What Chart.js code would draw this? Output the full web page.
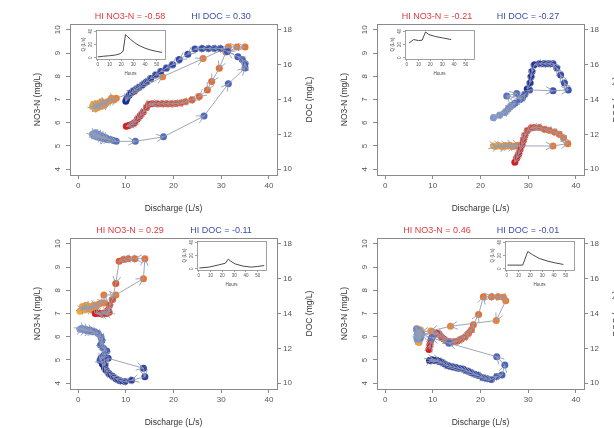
<!DOCTYPE html>
<html>
<head>
<meta charset="utf-8">
<script src="https://cdn.jsdelivr.net/npm/chart.js@4.4.1/dist/chart.umd.min.js"></script>
<style>
html, body { margin: 0; padding: 0; background: #fff; overflow: hidden; }
#wrap { position: relative; width: 614px; height: 428px; overflow: hidden; background: #fff; }
canvas { position: absolute; }
</style>
</head>
<body>
<div id="wrap">
  <canvas id="p1" width="320" height="214" style="left:0px;top:0px"></canvas>
  <canvas id="p2" width="320" height="214" style="left:307px;top:0px"></canvas>
  <canvas id="p3" width="320" height="214" style="left:0px;top:214px"></canvas>
  <canvas id="p4" width="320" height="214" style="left:307px;top:214px"></canvas>
  <canvas id="i1" width="90" height="49" style="left:78px;top:27px"></canvas>
  <canvas id="i2" width="90" height="49" style="left:387px;top:27px"></canvas>
  <canvas id="i3" width="90" height="49" style="left:179px;top:238px"></canvas>
  <canvas id="i4" width="90" height="49" style="left:487px;top:238px"></canvas>
</div>
<script>
// axis ticks
const xTicks = [0, 10, 20, 30, 40];
const no3Ticks = [4, 5, 6, 7, 8, 9, 10];
const docTicks = [10, 12, 14, 16, 18];
const hourTicks = [0, 10, 20, 30, 40, 50];
const flowTicks = [0, 20, 40];

// hysteresis index labels
const hiNo3 = ['-0.58', '-0.21', '0.29', '0.46'];
const hiDoc = ['0.30', '-0.27', '-0.11', '-0.01'];

// event 1
const p1NitrateQ = [3.0,3.6,3.2,4.1,3.8,4.6,4.4,5.1,5.0,5.7,6.0,6.6,7.0,7.5,8.0,11.8,17.7,26.2,31.5,33.3,35.0,31.0,29.6,28.0,27.1,25.4,23.9,22.5,21.5,20.5,19.5,18.5,17.5,16.5,15.5,14.8,14.3,13.6,13.0,12.4,11.8,11.2,10.6,10.1];
const p1Nitrate  = [6.7,6.6,6.8,6.65,6.78,6.7,6.85,6.72,6.9,6.8,6.88,6.95,7.05,6.98,7.05,7.34,7.98,8.76,9.26,9.26,9.26,9.05,8.34,7.77,7.41,7.13,6.99,6.9,6.85,6.83,6.82,6.82,6.82,6.82,6.82,6.8,6.65,6.45,6.3,6.15,6.0,5.92,5.88,5.85];
const p1DocQ = [3.0,3.3,3.6,4.0,4.3,4.7,5.0,5.4,5.8,6.2,6.8,7.4,8.0,12.0,17.9,26.4,31.5,35.0,35.0,34.4,33.5,31.3,29.8,28.5,27.3,26.0,24.5,23.0,21.2,19.8,18.5,17.3,16.2,15.2,14.3,13.5,12.8,12.2,11.7,11.2,10.7,10.2,10.0];
const p1Doc  = [12.0,11.9,12.1,11.85,12.0,11.8,11.9,11.75,11.8,11.7,11.7,11.65,11.6,11.6,11.86,13.05,14.9,15.8,16.05,16.3,16.45,16.75,16.92,16.92,16.92,16.92,16.9,16.6,16.3,16.0,15.8,15.6,15.4,15.2,15.0,14.85,14.7,14.6,14.5,14.4,14.25,14.05,13.9];
const i1Hours = [0,5,10,15,19,21.5,23.5,25.5,28,31,35,40,45,50,54.5];
const i1Flow  = [1.2,2.2,3.0,4.0,6.0,10.0,35.0,31.5,27.5,23.0,18.5,14.5,11.5,9.5,8.0];

// event 2
const p2NitrateQ = [22.7,23.2,23.7,24.2,24.7,25.2,25.7,26.2,26.7,27.2,27.7,28.0,35.2,38.3,37.4,36.5,35.5,34.4,33.4,32.3,31.3,30.6,29.8,29.3,29.0,28.7,28.3,28.0,27.6,27.2];
const p2Nitrate  = [5.0,4.98,5.02,5.0,4.97,5.02,5.0,5.03,4.98,5.0,5.02,5.0,5.0,5.1,5.35,5.5,5.6,5.68,5.72,5.8,5.8,5.77,5.65,5.45,5.25,5.05,4.85,4.65,4.48,4.3];
const p2DocQ = [22.7,24.0,25.1,25.8,26.3,26.8,27.3,25.5,27.6,28.3,28.8,29.3,30.3,35.2,38.4,37.6,36.8,36.0,35.2,34.2,33.3,32.3,31.3,30.8,30.6,30.4,29.8];
const p2Doc  = [12.95,13.1,13.25,13.45,13.6,13.7,13.8,14.2,14.35,14.0,14.1,14.3,14.55,14.5,14.55,14.95,15.4,15.8,16.05,16.05,16.05,16.05,16.0,15.6,15.3,14.95,14.6];
const i2Hours = [2,5.8,10,13,15.9,18.8,24.6,30.3,37.6];
const i2Flow  = [22.3,27.5,26,26.5,39,35,32,30,27.5];

// event 3
const p3NitrateQ = [0.4,0.9,1.3,1.7,2.1,2.5,2.9,3.3,3.8,4.3,4.9,5.5,5.4,7.9,13.7,14.0,11.9,10.5,9.5,8.6,7.9,7.2,6.6,6.3,6.5,6.0,5.5,5.0,4.5,4.0,3.6];
const p3Nitrate  = [7.1,7.3,7.15,7.35,7.2,7.3,7.15,7.35,7.3,7.4,7.45,7.45,7.8,7.8,8.5,9.36,9.36,9.36,9.32,9.25,8.29,7.6,7.35,7.15,7.05,7.0,7.02,6.98,7.0,7.02,7.0];
const p3DocQ = [0.4,0.8,1.2,1.6,2.0,2.5,3.0,3.5,4.2,4.8,5.0,4.7,5.3,6.0,5.4,4.8,4.6,5.2,5.6,6.3,13.7,14.0,11.2,9.8,8.8,8.0,7.2,6.5,5.9,5.5,5.1];
const p3Doc  = [13.1,13.15,13.05,13.1,13.0,13.05,12.95,12.95,12.85,12.65,12.45,12.2,12.0,11.85,11.6,11.45,11.3,11.2,11.05,11.43,10.86,10.37,10.17,10.1,10.15,10.25,10.4,10.55,10.75,10.9,11.1];
const i3Hours = [0.5,8.8,17,22.5,25,26.6,30.8,37.6,44.5,50,55.5];
const i3Flow  = [1,2.4,5.8,8.2,14.5,12,7.2,3.9,2.4,3.4,4.8];

// event 4
const p4NitrateQ = [9.2,9.4,9.6,9.9,10.3,10.8,11.3,11.8,12.3,12.9,13.6,14.4,15.2,16.0,16.8,17.5,18.1,18.5,19.6,20.6,22.3,23.7,24.8,25.3,23.3,13.7,9.6,7.6,7.3,7.0,6.8,7.2,6.9,7.3,6.6,7.1,6.7,7.4];
const p4Nitrate  = [5.45,5.65,5.85,6.0,6.1,6.15,6.12,6.0,5.9,5.82,5.78,5.78,5.82,5.9,6.0,6.15,6.3,6.52,6.96,7.72,7.72,7.72,7.7,7.55,6.7,6.45,6.25,6.2,6.05,5.9,6.1,6.25,5.8,6.0,6.35,5.75,6.0,6.3];
const p4DocQ = [9.3,9.8,10.3,10.8,11.3,11.9,12.5,13.2,14.0,14.8,15.6,16.4,17.2,18.0,18.8,19.6,20.5,21.4,22.3,23.4,24.5,25.1,23.4,13.4,9.8,7.6,7.2,6.9,7.4,7.0,6.8,6.6,7.3,6.7,7.1];
const p4Doc  = [11.3,11.35,11.3,11.32,11.25,11.2,11.1,11.0,10.95,10.9,10.85,10.8,10.7,10.62,10.52,10.45,10.32,10.26,10.22,10.38,10.47,11.04,11.52,12.3,12.6,12.8,12.95,12.7,12.6,13.05,12.85,13.1,12.75,12.55,12.9];
const i4Hours = [0.6,13.5,17.8,22,27.9,35,40.8,48];
const i4Flow  = [5.4,5.4,26,21,15.3,11.3,8.9,6.4];

const FONT = '"Liberation Sans", Arial, sans-serif';
Chart.defaults.font.family = FONT;
Chart.defaults.animation = false;

const orangeStops = [[246, 168, 52], [236, 110, 48], [212, 30, 32]];
const blueStops = [[125, 152, 212], [62, 86, 178], [32, 44, 150]];

function ramp(stops, n, reverse) {
    const out = [];
    for (let i = 0; i < n; i++) {
        let t = n > 1 ? i / (n - 1) : 0;
        if (reverse) t = 1 - t;
        const seg = t < 0.5 ? 0 : 1;
        const f = t < 0.5 ? t * 2 : (t - 0.5) * 2;
        const a = stops[seg], b = stops[seg + 1];
        const c = a.map((v, k) => Math.round(v + (b[k] - v) * f));
        out.push(`rgb(${c[0]},${c[1]},${c[2]})`);
    }
    return out;
}

function pairs(xs, ys) {
    return xs.map((x, i) => ({ x: x, y: ys[i] }));
}

function rotatedText(ctx, text, x, y) {
    ctx.save();
    ctx.translate(x, y);
    ctx.rotate(-Math.PI / 2);
    ctx.textAlign = 'center';
    ctx.textBaseline = 'middle';
    ctx.fillText(text, 0, 0);
    ctx.restore();
}

// grey segment from each point to the next, open V head at the end
function drawArrows(ctx, pts) {
    ctx.save();
    ctx.strokeStyle = 'rgba(148,156,176,0.9)';
    ctx.lineWidth = 1;
    for (let i = 1; i < pts.length; i++) {
        const a = pts[i - 1], b = pts[i];
        const dx = b.x - a.x, dy = b.y - a.y;
        if (Math.hypot(dx, dy) < 0.5) continue;
        const ang = Math.atan2(dy, dx);
        const h = 8, s = 0.5;
        ctx.beginPath();
        ctx.moveTo(a.x, a.y);
        ctx.lineTo(b.x, b.y);
        ctx.moveTo(b.x - h * Math.cos(ang - s), b.y - h * Math.sin(ang - s));
        ctx.lineTo(b.x, b.y);
        ctx.lineTo(b.x - h * Math.cos(ang + s), b.y - h * Math.sin(ang + s));
        ctx.stroke();
    }
    ctx.restore();
}

const tickGrid = { display: true, drawOnChartArea: false, drawTicks: true, tickLength: 4, color: '#8a8a8a', lineWidth: 1 };

function makePanel(id, idx, no3Q, no3, docQ, doc, reverse) {
    const decor = {
        id: 'decor' + idx,
        afterDatasetDraw(chart, args) {
            drawArrows(chart.ctx, args.meta.data);
        },
        afterDraw(chart) {
            const { ctx, chartArea: a, scales } = chart;
            ctx.save();
            ctx.strokeStyle = '#8a8a8a';
            ctx.lineWidth = 1;
            ctx.strokeRect(Math.round(a.left) + 0.5, Math.round(a.top) + 0.5,
                Math.round(a.right - a.left), Math.round(a.bottom - a.top));
            ctx.fillStyle = '#555';
            ctx.font = '8px ' + FONT;
            no3Ticks.forEach(v => rotatedText(ctx, String(v), a.left - 12, scales.y.getPixelForValue(v)));
            ctx.fillStyle = '#333';
            ctx.font = '8.5px ' + FONT;
            rotatedText(ctx, 'NO3-N (mg/L)', a.left - 32, (a.top + a.bottom) / 2);
            rotatedText(ctx, 'DOC (mg/L)', a.right + 33, (a.top + a.bottom) / 2);
            ctx.font = '9px ' + FONT;
            ctx.textAlign = 'center';
            ctx.textBaseline = 'middle';
            ctx.fillStyle = '#e23a3f';
            ctx.fillText('HI NO3-N = ' + hiNo3[idx], 130, 17);
            ctx.fillStyle = '#3b4ea8';
            ctx.fillText('HI DOC = ' + hiDoc[idx], 221, 17);
            ctx.restore();
        }
    };

    new Chart(document.getElementById(id), {
        type: 'scatter',
        data: {
            datasets: [{
                label: 'DOC',
                data: pairs(docQ, doc),
                yAxisID: 'y2',
                backgroundColor: ramp(blueStops, docQ.length, reverse),
                pointRadius: 3.5,
                pointBorderWidth: 0
            }, {
                label: 'NO3-N',
                data: pairs(no3Q, no3),
                yAxisID: 'y',
                backgroundColor: ramp(orangeStops, no3Q.length, reverse),
                pointRadius: 3.5,
                pointBorderWidth: 0
            }]
        },
        options: {
            responsive: false,
            devicePixelRatio: 1,
            layout: { padding: { top: 24, left: 0, right: 0, bottom: 0 } },
            plugins: { legend: { display: false }, tooltip: { enabled: false } },
            scales: {
                x: {
                    type: 'linear', min: -1.7, max: 41.7,
                    afterBuildTicks: s => { s.ticks = xTicks.map(v => ({ value: v })); },
                    afterFit: s => { s.height = 39; },
                    grid: tickGrid,
                    border: { display: false },
                    ticks: { font: { size: 8 }, color: '#555', padding: 2, maxRotation: 0, autoSkip: false },
                    title: { display: true, text: 'Discharge (L/s)', font: { size: 8.5 }, color: '#333', padding: 0 }
                },
                y: {
                    type: 'linear', position: 'left', min: 3.75, max: 10.25,
                    afterBuildTicks: s => { s.ticks = no3Ticks.map(v => ({ value: v })); },
                    afterFit: s => { s.width = 70; },
                    grid: tickGrid,
                    border: { display: false },
                    ticks: { display: false }
                },
                y2: {
                    type: 'linear', position: 'right', min: 9.67, max: 18.33,
                    afterBuildTicks: s => { s.ticks = docTicks.map(v => ({ value: v })); },
                    afterFit: s => { s.width = 43; },
                    grid: tickGrid,
                    border: { display: false },
                    ticks: { font: { size: 8 }, color: '#555', padding: 2 }
                }
            }
        },
        plugins: [decor]
    });
}

function makeInset(id, hours, flow) {
    const frame = {
        id: 'frame' + id,
        afterDraw(chart) {
            const { ctx, chartArea: a, scales } = chart;
            ctx.save();
            ctx.strokeStyle = '#8a8a8a';
            ctx.lineWidth = 0.8;
            ctx.strokeRect(Math.round(a.left) + 0.5, Math.round(a.top) + 0.5,
                Math.round(a.right - a.left), Math.round(a.bottom - a.top));
            ctx.fillStyle = '#555';
            ctx.font = '4.5px ' + FONT;
            flowTicks.forEach(v => rotatedText(ctx, String(v), a.left - 5, scales.y.getPixelForValue(v)));
            rotatedText(ctx, 'Q (L/s)', a.left - 12, (a.top + a.bottom) / 2);
            ctx.restore();
        }
    };
    const smallGrid = { display: true, drawOnChartArea: false, drawTicks: true, tickLength: 2, color: '#8a8a8a', lineWidth: 0.8 };
    new Chart(document.getElementById(id), {
        type: 'scatter',
        data: {
            datasets: [{
                data: pairs(hours, flow),
                showLine: true,
                borderColor: '#4a4a4a',
                borderWidth: 1,
                pointRadius: 0,
                tension: 0
            }]
        },
        options: {
            responsive: false,
            devicePixelRatio: 1,
            layout: { padding: { top: 3, right: 3, left: 0, bottom: 0 } },
            plugins: { legend: { display: false }, tooltip: { enabled: false } },
            scales: {
                x: {
                    type: 'linear', min: -1.5, max: 57,
                    afterBuildTicks: s => { s.ticks = hourTicks.map(v => ({ value: v })); },
                    afterFit: s => { s.height = 17; },
                    grid: smallGrid,
                    border: { display: false },
                    ticks: { font: { size: 4.5 }, color: '#555', padding: 1, maxRotation: 0, autoSkip: false },
                    title: { display: true, text: 'Hours', font: { size: 4.5 }, color: '#444', padding: 0 }
                },
                y: {
                    type: 'linear', min: -2, max: 42,
                    afterBuildTicks: s => { s.ticks = flowTicks.map(v => ({ value: v })); },
                    afterFit: s => { s.width = 18; },
                    grid: smallGrid,
                    border: { display: false },
                    ticks: { display: false }
                }
            }
        },
        plugins: [frame]
    });
}

makePanel('p1', 0, p1NitrateQ, p1Nitrate, p1DocQ, p1Doc, false);
makePanel('p2', 1, p2NitrateQ, p2Nitrate, p2DocQ, p2Doc, false);
makePanel('p3', 2, p3NitrateQ, p3Nitrate, p3DocQ, p3Doc, false);
makePanel('p4', 3, p4NitrateQ, p4Nitrate, p4DocQ, p4Doc, true);

makeInset('i1', i1Hours, i1Flow);
makeInset('i2', i2Hours, i2Flow);
makeInset('i3', i3Hours, i3Flow);
makeInset('i4', i4Hours, i4Flow);
</script>
</body>
</html>
